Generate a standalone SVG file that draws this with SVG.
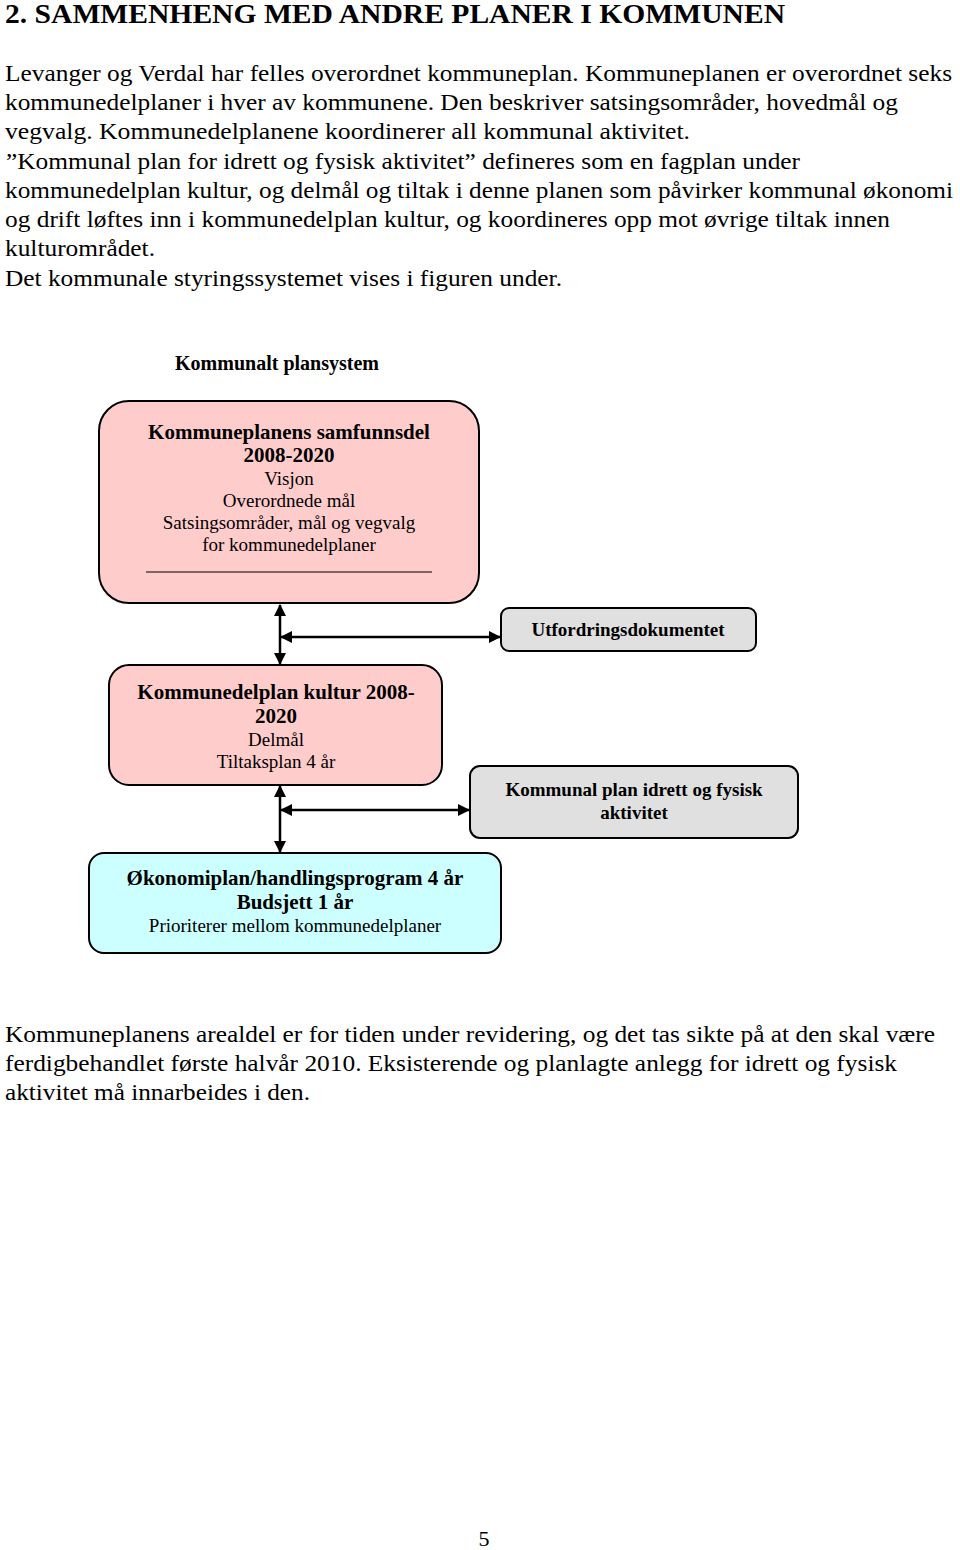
<svg xmlns="http://www.w3.org/2000/svg" width="960" height="1550" viewBox="0 0 960 1550">
<style>
.body{font-family:"Liberation Serif","Times New Roman",serif;font-size:24px;fill:#000}
.title{font-family:"Liberation Serif","Times New Roman",serif;font-size:28px;font-weight:bold;fill:#000}
.b{font-family:"Liberation Serif","Times New Roman",serif;font-size:21px;font-weight:bold;fill:#000;text-anchor:middle}
.bs{font-family:"Liberation Serif","Times New Roman",serif;font-size:19px;font-weight:bold;fill:#000;text-anchor:middle}
.r{font-family:"Liberation Serif","Times New Roman",serif;font-size:19px;fill:#000;text-anchor:middle}
.box{stroke:#000;stroke-width:2}
.pink{fill:#ffcccc}
.gray{fill:#e0e0e0}
.cyan{fill:#ccffff}
.conn{stroke:#000;stroke-width:2.5;fill:none}
</style>
<defs>
<marker id="ah" viewBox="0 0 12 12" refX="11" refY="6" markerWidth="12" markerHeight="12" markerUnits="userSpaceOnUse" orient="auto-start-reverse">
<path d="M0,0 L12,6 L0,12 Z" fill="#000"/>
</marker>
</defs>
<rect width="960" height="1550" fill="#fff"/>
<text class="title" x="5" y="23" textLength="780" lengthAdjust="spacingAndGlyphs">2. SAMMENHENG MED ANDRE PLANER I KOMMUNEN</text>
<g id="intro">
<text class="body" x="5" y="81" textLength="947" lengthAdjust="spacingAndGlyphs">Levanger og Verdal har felles overordnet kommuneplan. Kommuneplanen er overordnet seks</text>
<text class="body" x="5" y="110" textLength="893" lengthAdjust="spacingAndGlyphs">kommunedelplaner i hver av kommunene. Den beskriver satsingsområder, hovedmål og</text>
<text class="body" x="5" y="139" textLength="685" lengthAdjust="spacingAndGlyphs">vegvalg. Kommunedelplanene koordinerer all kommunal aktivitet.</text>
<text class="body" x="6" y="169" textLength="794" lengthAdjust="spacingAndGlyphs">”Kommunal plan for idrett og fysisk aktivitet” defineres som en fagplan under</text>
<text class="body" x="5" y="198" textLength="948" lengthAdjust="spacingAndGlyphs">kommunedelplan kultur, og delmål og tiltak i denne planen som påvirker kommunal økonomi</text>
<text class="body" x="5" y="227" textLength="885" lengthAdjust="spacingAndGlyphs">og drift løftes inn i kommunedelplan kultur, og koordineres opp mot øvrige tiltak innen</text>
<text class="body" x="5" y="256" textLength="150" lengthAdjust="spacingAndGlyphs">kulturområdet.</text>
<text class="body" x="5" y="286" textLength="557" lengthAdjust="spacingAndGlyphs">Det kommunale styringssystemet vises i figuren under.</text>
</g>
<text class="bs" x="277" y="370" style="font-size:20px">Kommunalt plansystem</text>
<g id="connectors">
<line class="conn" x1="280" y1="605" x2="280" y2="664" marker-start="url(#ah)" marker-end="url(#ah)"/>
<line class="conn" x1="281" y1="637" x2="500" y2="637" marker-start="url(#ah)" marker-end="url(#ah)"/>
<line class="conn" x1="280" y1="786" x2="280" y2="852" marker-start="url(#ah)" marker-end="url(#ah)"/>
<line class="conn" x1="281" y1="810" x2="469" y2="810" marker-start="url(#ah)" marker-end="url(#ah)"/>
</g>
<g id="samfunnsdel">
<rect class="box pink" x="99" y="401" width="380" height="202" rx="30"/>
<text class="b" x="289" y="439">Kommuneplanens samfunnsdel</text>
<text class="b" x="289" y="462">2008-2020</text>
<text class="r" x="289" y="485">Visjon</text>
<text class="r" x="289" y="507">Overordnede mål</text>
<text class="r" x="289" y="529">Satsingsområder, mål og vegvalg</text>
<text class="r" x="289" y="551">for kommunedelplaner</text>
<line x1="146" y1="572" x2="432" y2="572" stroke="#000" stroke-width="1.2"/>
</g>
<g id="utfordring">
<rect class="box gray" x="501" y="608" width="255" height="43" rx="8"/>
<text class="bs" x="628" y="636">Utfordringsdokumentet</text>
</g>
<g id="kultur">
<rect class="box pink" x="109" y="665" width="333" height="120" rx="20"/>
<text class="b" x="276" y="699">Kommunedelplan kultur 2008-</text>
<text class="b" x="276" y="723">2020</text>
<text class="r" x="276" y="746">Delmål</text>
<text class="r" x="276" y="768">Tiltaksplan 4 år</text>
</g>
<g id="idrett">
<rect class="box gray" x="470" y="766" width="328" height="72" rx="10"/>
<text class="bs" x="634" y="796">Kommunal plan idrett og fysisk</text>
<text class="bs" x="634" y="819">aktivitet</text>
</g>
<g id="okonomi">
<rect class="box cyan" x="89" y="853" width="412" height="100" rx="15"/>
<text class="b" x="295" y="885">Økonomiplan/handlingsprogram 4 år</text>
<text class="b" x="295" y="909">Budsjett 1 år</text>
<text class="r" x="295" y="932">Prioriterer mellom kommunedelplaner</text>
</g>
<g id="outro">
<text class="body" x="5" y="1042" textLength="930" lengthAdjust="spacingAndGlyphs">Kommuneplanens arealdel er for tiden under revidering, og det tas sikte på at den skal være</text>
<text class="body" x="5" y="1071" textLength="892" lengthAdjust="spacingAndGlyphs">ferdigbehandlet første halvår 2010. Eksisterende og planlagte anlegg for idrett og fysisk</text>
<text class="body" x="5" y="1100" textLength="305" lengthAdjust="spacingAndGlyphs">aktivitet må innarbeides i den.</text>
</g>
<text class="body" x="484" y="1546" text-anchor="middle" style="font-size:22px">5</text>
</svg>
